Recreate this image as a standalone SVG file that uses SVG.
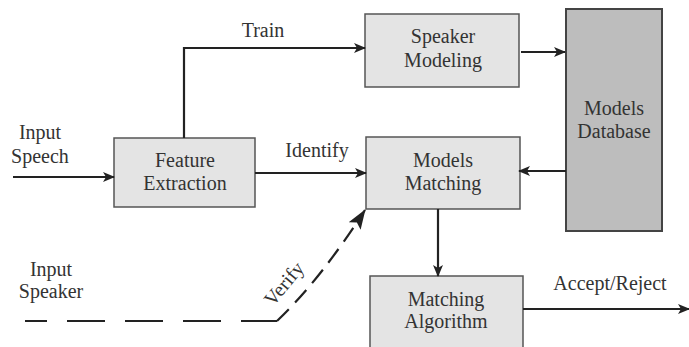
<svg xmlns="http://www.w3.org/2000/svg" width="689" height="347" viewBox="0 0 689 347">
<defs>
<marker id="ah" markerWidth="12" markerHeight="10" refX="11" refY="5" orient="auto" markerUnits="userSpaceOnUse">
<path d="M0,0 L12,5 L0,10 L3,5 Z" fill="#222"/>
</marker>
<marker id="ah2" markerWidth="20" markerHeight="14" refX="19" refY="7" orient="auto" markerUnits="userSpaceOnUse">
<path d="M0,0 L20,7 L0,14 L4,7 Z" fill="#222"/>
</marker>
<style>
.box{fill:#e4e4e4;stroke:#555;stroke-width:1.5}
.db{fill:#bdbdbd;stroke:#444;stroke-width:2}
.ln{fill:none;stroke:#222;stroke-width:2.2}
</style>
</defs>
<rect width="689" height="347" fill="#fff"/>
<g font-family="Liberation Serif, Tinos, Times New Roman, DejaVu Serif, serif" font-size="20" fill="#333" text-anchor="middle">
<g id="feature-extraction">
<rect class="box" x="114" y="138" width="141" height="69"/>
<text x="185" y="167">Feature</text>
<text x="185" y="190">Extraction</text>
</g>
<g id="speaker-modeling">
<rect class="box" x="365" y="14" width="154" height="73"/>
<text x="443" y="43">Speaker</text>
<text x="443" y="67">Modeling</text>
</g>
<g id="models-database">
<rect class="db" x="566" y="9" width="96" height="222"/>
<text x="614" y="115">Models</text>
<text x="614" y="138">Database</text>
</g>
<g id="models-matching">
<rect class="box" x="366" y="137" width="154" height="72"/>
<text x="443" y="167">Models</text>
<text x="443" y="190">Matching</text>
</g>
<g id="matching-algorithm">
<rect class="box" x="370" y="276" width="153" height="80"/>
<text x="446" y="306">Matching</text>
<text x="446" y="328">Algorithm</text>
</g>
<g id="labels">
<text x="40" y="139">Input</text>
<text x="40" y="163">Speech</text>
<text x="263" y="37">Train</text>
<text x="317" y="157">Identify</text>
<text x="51" y="276">Input</text>
<text x="51" y="298">Speaker</text>
<text x="610" y="290">Accept/Reject</text>
<text transform="translate(289,288) rotate(-50)">Verify</text>
</g>
</g>
<g id="connectors">
<path class="ln" d="M13,177 H114" marker-end="url(#ah)"/>
<path class="ln" d="M184,138 V48 H365" marker-end="url(#ah)"/>
<path class="ln" d="M255,173 H366" marker-end="url(#ah)"/>
<path class="ln" d="M521,52 H565" marker-end="url(#ah)"/>
<path class="ln" d="M566,171 H519" marker-end="url(#ah)"/>
<path class="ln" d="M438,209 V276" marker-end="url(#ah)"/>
<path class="ln" d="M523,309 H689" marker-end="url(#ah)"/>
<path class="ln" d="M25,321 H277" stroke-dasharray="38 20" stroke-dashoffset="16"/>
<path class="ln" d="M277,321 Q320,280 365,210" stroke-dasharray="17 9" marker-end="url(#ah2)"/>
</g>
</svg>
